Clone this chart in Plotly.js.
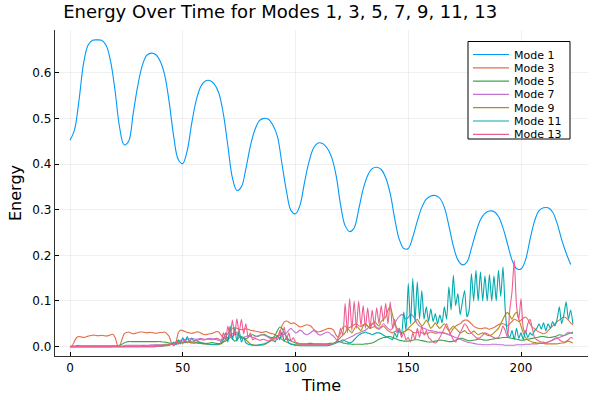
<!DOCTYPE html>
<html>
<head>
<meta charset="utf-8">
<script src="https://cdn.plot.ly/plotly-3.0.1.min.js"></script>
<style>html,body{margin:0;padding:0;background:#fff;}#chart{width:600px;height:400px;}</style>
</head>
<body>
<div id="chart"></div>
<script>
// ---- data ----
const seriesNames = ["Mode 1", "Mode 3", "Mode 5", "Mode 7", "Mode 9", "Mode 11", "Mode 13"];
const seriesColors = ["#009AFA", "#E36F47", "#3EA44E", "#C371D2", "#AC8E18", "#00A9AD", "#ED5E93"];
const xTicks = [0, 50, 100, 150, 200];
const yTicks = [0.0, 0.1, 0.2, 0.3, 0.4, 0.5, 0.6];
const yTickLabels = ["0.0", "0.1", "0.2", "0.3", "0.4", "0.5", "0.6"];

// sample times: every 2 time units for mode 1, every 1 time unit for the others
const timeMode1 = Array.from({length: 112}, (_, i) => 2 * i);
const timeModes = Array.from({length: 224}, (_, i) => i);

const mode1 = [
 .452,.475,.54,.62,.66,.671,.672,.671,.66,.625,
 .56,.48,.442,.45,.51,.57,.615,.638,.643,.64,
 .625,.595,.535,.46,.41,.401,.43,.49,.54,.57,
 .582,.583,.575,.555,.51,.44,.37,.342,.35,.39,
 .44,.475,.495,.5,.498,.485,.46,.40,.34,.298,
 .291,.31,.36,.405,.435,.446,.445,.435,.415,.375,
 .31,.265,.252,.26,.30,.345,.375,.39,.393,.388,
 .37,.335,.28,.235,.215,.215,.24,.275,.305,.323,
 .33,.331,.325,.305,.265,.22,.19,.179,.185,.215,
 .25,.278,.292,.297,.296,.285,.26,.225,.19,.171,
 .17,.19,.235,.275,.298,.304,.304,.295,.27,.235,
 .205,.18
];

const mode3 = [
 0,.002,.012,.02,.022,.021,.02,.021,.023,.024,
 .025,.025,.024,.024,.025,.024,.023,.024,.026,.027,
 .02,.004,.001,.015,.028,.031,.032,.03,.028,.029,
 .031,.032,.032,.031,.03,.031,.031,.03,.029,.03,
 .031,.031,.032,.028,.022,.008,.002,.01,.03,.036,
 .035,.033,.031,.03,.029,.03,.032,.032,.03,.027,
 .026,.027,.028,.029,.031,.033,.032,.025,.02,.022,
 .028,.034,.04,.042,.04,.038,.037,.038,.039,.038,
 .036,.035,.034,.033,.032,.031,.032,.033,.031,.029,
 .028,.026,.022,.03,.045,.054,.056,.054,.05,.052,
 .05,.046,.043,.044,.046,.048,.047,.044,.038,.034,
 .032,.033,.035,.037,.039,.04,.039,.035,.025,.02,
 .03,.042,.045,.04,.042,.045,.048,.05,.046,.044,
 .048,.05,.045,.04,.042,.044,.04,.038,.042,.045,
 .04,.035,.032,.03,.033,.035,.032,.03,.032,.035,
 .038,.036,.032,.03,.031,.032,.03,.029,.028,.03,
 .032,.031,.029,.03,.032,.031,.03,.028,.026,.032,
 .04,.045,.048,.05,.055,.058,.058,.055,.05,.045,
 .042,.04,.039,.04,.041,.04,.038,.04,.042,.045,
 .048,.05,.05,.048,.045,.05,.055,.06,.058,.055,
 .058,.062,.065,.06,.05,.042,.04,.035,.032,.03,
 .028,.03,.035,.04,.045,.05,.055,.058,.062,.065,
 .063,.058,.052,.048
];

const mode5 = [
 0,.001,.001,.002,.002,.002,.002,.002,.002,.002,
 .002,.002,.002,.002,.002,.002,.002,.002,.002,.002,
 .002,.002,.003,.005,.008,.01,.011,.011,.011,.011,
 .011,.011,.011,.011,.011,.011,.011,.011,.011,.011,
 .011,.01,.01,.009,.008,.007,.006,.006,.007,.008,
 .009,.01,.01,.009,.008,.008,.009,.01,.009,.008,
 .007,.007,.008,.009,.008,.007,.006,.007,.01,.012,
 .015,.02,.018,.012,.015,.02,.022,.02,.017,.02,
 .025,.026,.024,.022,.024,.026,.027,.025,.022,.02,
 .02,.025,.035,.043,.04,.03,.022,.015,.012,.01,
 .008,.007,.006,.006,.006,.006,.007,.007,.006,.006,
 .006,.006,.006,.006,.006,.007,.007,.008,.01,.012,
 .01,.008,.007,.006,.006,.005,.005,.005,.005,.005,
 .005,.006,.006,.007,.008,.01,.013,.016,.018,.02,
 .02,.022,.022,.02,.018,.016,.014,.013,.012,.012,
 .012,.013,.014,.015,.015,.014,.013,.012,.011,.01,
 .01,.011,.012,.013,.014,.014,.013,.012,.011,.011,
 .012,.014,.016,.018,.018,.016,.014,.013,.013,.014,
 .015,.016,.016,.015,.014,.014,.015,.016,.017,.018,
 .018,.019,.02,.02,.02,.019,.018,.018,.016,.015,
 .014,.014,.015,.016,.017,.018,.019,.02,.021,.022,
 .022,.021,.02,.02,.021,.022,.024,.026,.025,.024,
 .026,.028,.03,.032
];

const mode7 = [
 0,0,0,0,0,0,0,0,0,0,
 0,0,0,0,0,0,0,0,0,.001,
 .001,.001,.001,.001,.002,.003,.003,.003,.003,.003,
 .003,.003,.003,.003,.003,.003,.004,.004,.004,.004,
 .004,.004,.005,.005,.006,.007,.008,.01,.012,.014,
 .015,.016,.016,.017,.018,.017,.016,.017,.018,.017,
 .016,.017,.018,.017,.016,.015,.014,.015,.017,.018,
 .02,.024,.028,.03,.027,.022,.018,.02,.022,.024,
 .022,.02,.021,.023,.025,.026,.025,.023,.02,.018,
 .018,.02,.022,.025,.028,.026,.03,.036,.04,.035,
 .03,.032,.036,.033,.028,.026,.028,.032,.035,.032,
 .027,.025,.027,.03,.032,.03,.026,.022,.016,.012,
 .01,.012,.015,.018,.02,.022,.025,.028,.03,.032,
 .034,.036,.04,.045,.05,.048,.042,.04,.044,.05,
 .045,.04,.036,.04,.05,.06,.066,.07,.068,.06,
 .064,.07,.068,.06,.05,.045,.042,.04,.038,.036,
 .035,.034,.033,.032,.03,.03,.029,.028,.026,.024,
 .022,.02,.018,.016,.014,.012,.01,.009,.008,.007,
 .006,.005,.005,.004,.004,.004,.004,.005,.005,.005,
 .004,.004,.004,.003,.003,.003,.003,.003,.004,.004,
 .004,.004,.005,.005,.005,.006,.006,.006,.007,.007,
 .008,.009,.01,.012,.014,.016,.018,.02,.022,.024,
 .028,.032,.03,.028
];

const mode9 = [
 0,0,0,0,0,0,0,0,0,0,
 0,0,0,0,0,0,0,0,0,0,
 0,0,0,0,0,.001,.001,.001,.001,.001,
 .001,.001,.002,.002,.002,.002,.002,.002,.003,.003,
 .003,.003,.004,.004,.005,.006,.007,.008,.009,.01,
 .01,.01,.01,.009,.009,.008,.008,.007,.007,.006,
 .006,.005,.005,.004,.004,.004,.004,.006,.01,.015,
 .02,.025,.022,.028,.032,.025,.02,.018,.015,.01,
 .006,.004,.003,.003,.003,.003,.004,.006,.01,.014,
 .018,.02,.022,.02,.016,.012,.01,.008,.006,.005,
 .004,.004,.004,.004,.004,.004,.004,.004,.004,.004,
 .004,.004,.004,.004,.005,.005,.006,.007,.01,.015,
 .02,.025,.03,.04,.035,.03,.038,.045,.04,.035,
 .045,.05,.045,.04,.05,.055,.05,.045,.055,.06,
 .065,.08,.087,.07,.05,.04,.035,.03,.032,.035,
 .04,.045,.05,.055,.06,.052,.045,.05,.058,.05,
 .04,.045,.052,.045,.04,.045,.05,.042,.035,.04,
 .045,.04,.035,.03,.032,.035,.03,.028,.03,.034,
 .03,.026,.028,.03,.028,.025,.024,.026,.03,.035,
 .04,.05,.06,.07,.075,.068,.06,.07,.075,.06,
 .045,.03,.02,.015,.012,.01,.009,.008,.008,.007,
 .007,.006,.006,.006,.006,.006,.006,.007,.008,.008,
 .01,.012,.01,.008
];

const mode11 = [
 0,0,0,0,0,0,0,0,0,0,
 0,0,0,0,0,0,0,0,0,0,
 0,0,0,0,0,0,0,0,0,0,
 0,0,0,0,0,0,0,0,.001,.001,
 .001,.001,.002,.002,.003,.005,.01,.004,.015,.006,
 .02,.008,.022,.01,.018,.012,.015,.01,.008,.007,
 .006,.006,.005,.005,.005,.005,.006,.008,.015,.03,
 .01,.045,.015,.04,.012,.035,.01,.02,.008,.005,
 .004,.003,.003,.003,.004,.005,.006,.008,.01,.012,
 .015,.01,.025,.015,.032,.012,.02,.008,.005,.004,
 .003,.003,.002,.002,.002,.002,.002,.002,.002,.002,
 .002,.002,.002,.002,.002,.003,.004,.006,.008,.01,
 .012,.015,.012,.01,.008,.01,.015,.02,.025,.028,
 .03,.032,.03,.028,.026,.028,.03,.03,.028,.025,
 .022,.02,.018,.015,.03,.02,.04,.025,.076,.035,
 .138,.05,.149,.055,.142,.06,.123,.06,.087,.055,
 .083,.055,.072,.05,.069,.052,.087,.06,.131,.08,
 .156,.09,.116,.07,.098,.123,.065,.08,.16,.10,
 .167,.10,.164,.10,.155,.10,.158,.10,.155,.10,
 .167,.11,.175,.08,.03,.02,.035,.015,.04,.018,
 .03,.015,.035,.02,.03,.025,.035,.04,.05,.038,
 .052,.035,.05,.04,.055,.045,.06,.087,.05,.07,
 .098,.06,.08,.05
];

const mode13 = [
 0,0,0,0,0,0,0,0,0,0,
 0,0,0,0,0,0,0,0,0,0,
 0,0,0,0,0,0,0,0,0,0,
 0,0,0,0,0,0,0,0,0,.001,
 .001,.001,.002,.003,.004,.006,.004,.01,.005,.012,
 .006,.015,.008,.014,.01,.012,.013,.015,.016,.014,
 .015,.017,.016,.015,.017,.018,.016,.01,.03,.015,
 .045,.02,.058,.025,.061,.03,.06,.028,.05,.02,
 .03,.015,.018,.016,.014,.015,.016,.014,.012,.015,
 .012,.02,.015,.035,.02,.043,.015,.03,.012,.02,
 .01,.008,.006,.005,.005,.005,.005,.005,.005,.005,
 .005,.005,.004,.004,.004,.005,.006,.007,.01,.02,
 .04,.025,.095,.03,.105,.035,.10,.04,.10,.045,
 .09,.04,.085,.04,.08,.045,.085,.05,.09,.055,
 .095,.05,.098,.04,.06,.03,.04,.02,.03,.015,
 .02,.01,.03,.015,.04,.02,.045,.025,.035,.02,
 .015,.01,.008,.012,.02,.03,.04,.05,.035,.025,
 .015,.01,.02,.03,.04,.05,.045,.035,.03,.025,
 .02,.018,.02,.025,.03,.028,.025,.022,.02,.018,
 .02,.03,.045,.035,.02,.08,.12,.189,.09,.06,
 .105,.04,.03,.05,.06,.04,.02,.015,.012,.01,
 .01,.008,.01,.012,.015,.018,.02,.015,.012,.01,
 .012,.015,.02,.018
];

const seriesValues = [mode1, mode3, mode5, mode7, mode9, mode11, mode13];
const seriesTimes = [timeMode1, timeModes, timeModes, timeModes, timeModes, timeModes, timeModes];

// ---- chart ----
const font = "DejaVu Sans, Liberation Sans, sans-serif";
const W = 600, H = 400;
const M = {l: 55, r: 12, t: 30, b: 44};
const plotW = W - M.l - M.r, plotH = H - M.t - M.b;
const px2paperX = px => (px - M.l) / plotW;
const px2paperY = py => (H - M.b - py) / plotH;

const traces = seriesNames.map((name, i) => ({
  type: "scatter",
  mode: "lines",
  name: name,
  x: seriesTimes[i],
  y: seriesValues[i],
  line: {color: seriesColors[i], width: 1.1, shape: "spline", smoothing: i === 0 ? 1 : 0.6}
}));

// compact legend box (Plots.jl style), built from the names and colours above
const legBox = {x0: 468, x1: 570, y0: 41.5, y1: 139};
const legRow0 = 54.5, legRowStep = 13.3;
const shapes = [{
  type: "rect", xref: "paper", yref: "paper",
  x0: px2paperX(legBox.x0), x1: px2paperX(legBox.x1),
  y0: px2paperY(legBox.y1), y1: px2paperY(legBox.y0),
  line: {color: "#000000", width: 1}, fillcolor: "#ffffff", layer: "above"
}];
const annotations = [];
seriesNames.forEach((name, i) => {
  const py = legRow0 + i * legRowStep;
  shapes.push({
    type: "line", xref: "paper", yref: "paper",
    x0: px2paperX(473), x1: px2paperX(509),
    y0: px2paperY(py), y1: px2paperY(py),
    line: {color: seriesColors[i], width: 1.2}, layer: "above"
  });
  annotations.push({
    xref: "paper", yref: "paper", x: px2paperX(513), y: px2paperY(py),
    xanchor: "left", yanchor: "middle", showarrow: false, text: name,
    borderpad: 0, height: 12,
    font: {family: font, size: 11, color: "#000000"}
  });
});

const layout = {
  width: W,
  height: H,
  margin: {l: M.l, r: M.r, t: M.t, b: M.b, pad: 0},
  paper_bgcolor: "#ffffff",
  plot_bgcolor: "#ffffff",
  font: {family: font, color: "#000000", size: 12},
  title: {
    text: "Energy Over Time for Modes 1, 3, 5, 7, 9, 11, 13",
    font: {family: font, size: 18, color: "#000000"},
    x: 0.467, xanchor: "center", xref: "container",
    y: 0.972, yanchor: "middle", yref: "container"
  },
  showlegend: false,
  shapes: shapes,
  annotations: annotations,
  xaxis: {
    range: [-6.65, 229.7],
    tickvals: xTicks,
    ticktext: xTicks.map(String),
    ticks: "inside", ticklen: 4, tickcolor: "#000000",
    showgrid: true, gridcolor: "rgba(0,0,0,0.1)", gridwidth: 0.6,
    zeroline: false,
    showline: true, linecolor: "rgba(0,0,0,0.8)", linewidth: 1.2, mirror: false,
    tickfont: {family: font, size: 12, color: "#000000"},
    title: {text: "Time", font: {family: font, size: 16, color: "#000000"}, standoff: 6}
  },
  yaxis: {
    range: [-0.0206, 0.6936],
    tickvals: yTicks,
    ticktext: yTickLabels,
    ticks: "inside", ticklen: 4, tickcolor: "#000000",
    showgrid: true, gridcolor: "rgba(0,0,0,0.1)", gridwidth: 0.6,
    zeroline: false,
    showline: true, linecolor: "rgba(0,0,0,0.8)", linewidth: 1.2, mirror: false,
    tickfont: {family: font, size: 12, color: "#000000"},
    title: {text: "Energy", font: {family: font, size: 16, color: "#000000"}, standoff: 6}
  }
};

Plotly.newPlot("chart", traces, layout, {staticPlot: true, displayModeBar: false});
</script>
</body>
</html>
